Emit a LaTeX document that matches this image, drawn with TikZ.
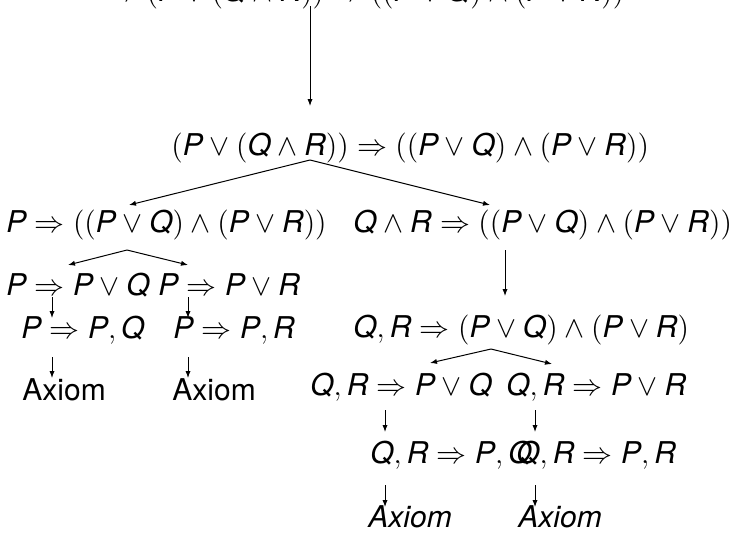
\documentclass[tikz,border=0pt]{standalone}
\usepackage{fix-cm}
\usepackage{fontspec}
\setmainfont{TeX Gyre Heros}
\usetikzlibrary{arrows.meta}
\newcommand{\sP}{\textit{P}}
\newcommand{\sQ}{\textit{Q}}
\newcommand{\sR}{\textit{R}}

\begin{document}
\begin{tikzpicture}
	[x=0.5pt, y=-0.5pt,
	seq/.style ={anchor=base west, inner sep=0pt, font=\fontsize{15}{18}\selectfont},
	line/.style ={draw, line width=0.5pt, -{Latex[length=3.5pt,width=2.6pt]}}]
	\useasboundingbox (0,0) rectangle (733,532);
	\draw (108, 1) node[seq] (root) {$\Rightarrow (\sP \vee (\sQ \wedge \sR)) \Rightarrow ((\sP \vee \sQ) \wedge (\sP \vee \sR))$};
	\draw (171, 155) node[seq] (imp) {$(\sP \vee (\sQ \wedge \sR)) \Rightarrow ((\sP \vee \sQ) \wedge (\sP \vee \sR))$};
	\draw (6, 232) node[seq] (lp) {$\sP \Rightarrow ((\sP \vee \sQ) \wedge (\sP \vee \sR))$};
	\draw (353, 232) node[seq] (rqr) {$\sQ \wedge \sR \Rightarrow ((\sP \vee \sQ) \wedge (\sP \vee \sR))$};
	\draw (6, 295) node[seq] (lpq) {$\sP \Rightarrow \sP \vee \sQ$};
	\draw (158, 295) node[seq] (lpr) {$\sP \Rightarrow \sP \vee \sR$};
	\draw (21, 338) node[seq] (lpq') {$\sP \Rightarrow \sP, \sQ$};
	\draw (173, 338) node[seq] (lpr') {$\sP \Rightarrow \sP, \sR$};
	\draw (22, 400) node[seq] (ax1) {Axiom};
	\draw (172, 400) node[seq] (ax2) {Axiom};
	\draw (353, 337) node[seq] (rand) {$\sQ, \sR \Rightarrow (\sP \vee \sQ) \wedge (\sP \vee \sR)$};
	\draw (310, 395) node[seq] (rpq) {$\sQ, \sR \Rightarrow \sP \vee \sQ$};
	\draw (506, 395) node[seq] (rpr) {$\sQ, \sR \Rightarrow \sP \vee \sR$};
	\draw (370, 463) node[seq] (rpq') {$\sQ, \sR \Rightarrow \sP, \sQ$};
	\draw (516, 463) node[seq] (rpr') {$\sQ, \sR \Rightarrow \sP, \sR$};
	\draw (368, 527) node[seq] (ax3) {\textit{Axiom}};
	\draw (518, 527) node[seq] (ax4) {\textit{Axiom}};
	\draw[line] ([shift={(202,5)}]root.base west) -- ([shift={(139,-49)}]imp.base west);
	\draw[line] ([shift={(139,5)}]imp.base west) -- ([shift={(123,-27)}]lp.base west);
	\draw[line] ([shift={(139,5)}]imp.base west) -- ([shift={(137,-27)}]rqr.base west);
	\draw[line] ([shift={(121,18)}]lp.base west) -- ([shift={(62,-30)}]lpq.base west);
	\draw[line] ([shift={(121,18)}]lp.base west) -- ([shift={(30,-30)}]lpr.base west);
	\draw[line] ([shift={(152,18)}]rqr.base west) -- ([shift={(152,-41)}]rand.base west);
	\draw[line] ([shift={(46,2)}]lpq.base west) -- ([shift={(31,-20)}]lpq'.base west);
	\draw[line] ([shift={(30,2)}]lpr.base west) -- ([shift={(15,-20)}]lpr'.base west);
	\draw[line] ([shift={(31,19)}]lpq'.base west) -- ([shift={(30,-22)}]ax1.base west);
	\draw[line] ([shift={(15,19)}]lpr'.base west) -- ([shift={(16,-22)}]ax2.base west);
	\draw[line] ([shift={(138,12)}]rand.base west) -- ([shift={(120,-32)}]rpq.base west);
	\draw[line] ([shift={(138,12)}]rand.base west) -- ([shift={(46,-31)}]rpr.base west);
	\draw[line] ([shift={(75,15)}]rpq.base west) -- ([shift={(15,-31)}]rpq'.base west);
	\draw[line] ([shift={(29,15)}]rpr.base west) -- ([shift={(19,-31)}]rpr'.base west);
	\draw[line] ([shift={(15,22)}]rpq'.base west) -- ([shift={(17,-20)}]ax3.base west);
	\draw[line] ([shift={(19,22)}]rpr'.base west) -- ([shift={(17,-20)}]ax4.base west);
	\end{tikzpicture}
\end{document}
